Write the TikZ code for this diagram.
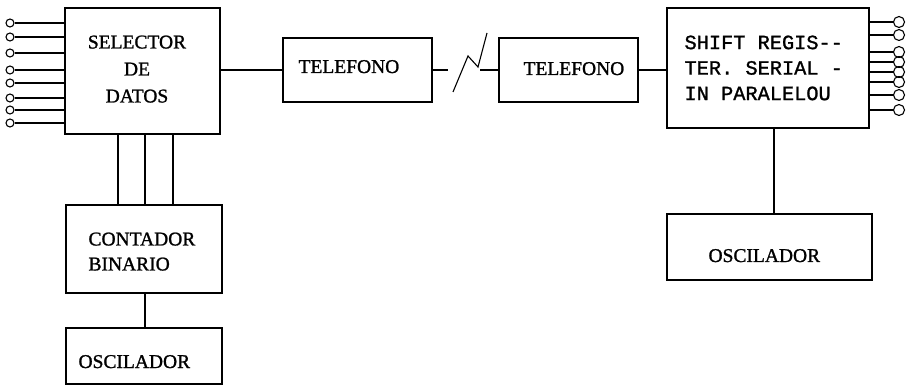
\documentclass[tikz,border=0pt]{standalone}
\usepackage{fontspec}
\setmainfont{Liberation Serif}[BoldFont=Liberation Serif, BoldFeatures={FakeBold=1.2}]
\newfontfamily\typew{Liberation Mono}[BoldFont=Liberation Mono, BoldFeatures={FakeBold=1.2}]
\begin{document}
\begin{tikzpicture}[x=1pt,y=-1pt, line width=1.1pt,
  box/.style={draw, inner sep=0pt},
  lbl/.style={inner sep=0pt, font=\bfseries\fontsize{19.5}{27}\selectfont},
  monolbl/.style={inner sep=0pt, font=\typew\bfseries\fontsize{20.3}{25.5}\selectfont},
  incirc/.style={circle, draw, inner sep=0pt, minimum size=8pt},
  outcirc/.style={circle, draw, inner sep=0pt, minimum size=11pt}]
\useasboundingbox (0,0) rectangle (910,387);

% boxes
\node[box, minimum width=155pt, minimum height=126pt] (sel) at (142.5,71) {};
\node[box, minimum width=149pt, minimum height=64pt] (tel1) at (357.5,70) {};
\node[box, minimum width=139pt, minimum height=64pt] (tel2) at (568.5,70) {};
\node[box, minimum width=202pt, minimum height=120pt] (shift) at (768,68) {};
\node[box, minimum width=156pt, minimum height=88pt] (cnt) at (144,249) {};
\node[box, minimum width=156pt, minimum height=56pt] (osc1) at (144,356) {};
\node[box, minimum width=205pt, minimum height=66pt] (osc2) at (769.5,247) {};

% labels
\node[lbl, align=center, anchor=north] (selt) at (137,35) {SELECTOR\\DE\\DATOS};
\node[lbl, anchor=base west] (tel1t) at (298,73) {TELEFONO};
\node[lbl, anchor=base west] (tel2t) at (523,75) {TELEFONO};
\node[monolbl, align=left, anchor=north west] (shiftt) at (684,35) {SHIFT REGIS--\\TER. SERIAL -\\IN PARALELOU};
\node[lbl, align=left, anchor=north west, font=\bfseries\fontsize{19.5}{25}\selectfont] (cntt) at (88,232) {CONTADOR\\BINARIO};
\node[lbl, anchor=base west] (osc1t) at (78,368) {OSCILADOR};
\node[lbl, anchor=base west] (osc2t) at (708,262) {OSCILADOR};

% inputs
\foreach \y [count=\i] in {23,37,53,70,83,98,110,123} {
  \node[incirc] (in\i) at (10,\y) {};
  \draw (in\i) -- (in\i -| sel.west);
}
% outputs
\foreach \y [count=\i] in {22,35,52,62,72,82,95,110} {
  \node[outcirc] (out\i) at (899,\y) {};
  \draw (out\i) -- (out\i -| shift.east);
}

% selector -> contador (three lines)
\coordinate (v1) at (118,0);
\coordinate (v2) at (145,0);
\coordinate (v3) at (173,0);
\foreach \v in {v1,v2,v3} {
  \draw (\v |- sel.south) -- (\v |- cnt.north);
}
% contador -> oscilador
\draw (v2 |- cnt.south) -- (v2 |- osc1.north);

% selector -> telefono 1
\draw (sel.east |- tel1.west) -- (tel1.west);
% telefono link with break
\coordinate (z0) at (448,70);
\coordinate (z1) at (453,92);
\coordinate (z2) at (468,56);
\coordinate (z3) at (478,67);
\coordinate (z4) at (487,33);
\coordinate (z5) at (480,70);
\draw (tel1.east) -- (z0);
\draw (z1) -- (z2) -- (z3) -- (z4);
\draw (z5) -- (tel2.west);
% telefono 2 -> shift register
\draw (tel2.east) -- (tel2.east -| shift.west);
% shift register -> oscilador
\coordinate (v4) at (774,0);
\draw (v4 |- shift.south) -- (v4 |- osc2.north);
\end{tikzpicture}
\end{document}
